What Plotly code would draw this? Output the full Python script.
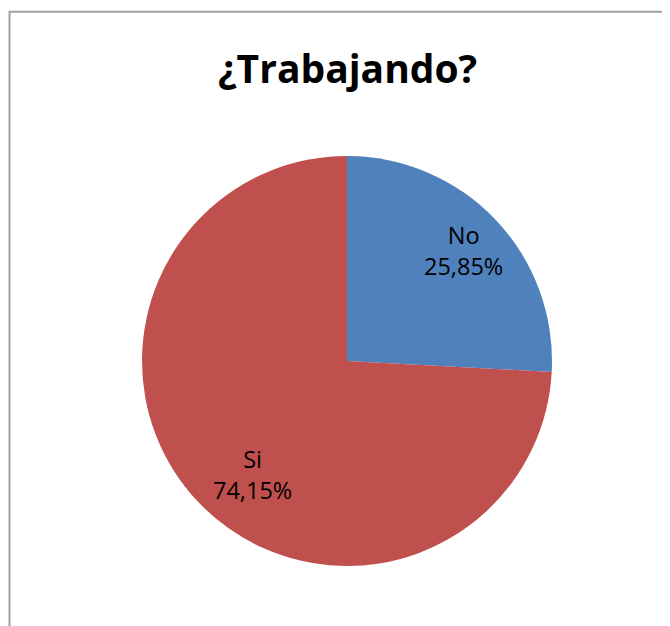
import math
import plotly.graph_objects as go

labels = ["No", "Si"]
values = [25.85, 74.15]
colors = ["#4F81BD", "#C0504D"]
title = "¿Trabajando?"

OFF = 8  # page body margin in the browser
W, H = 670 - OFF, 626 - OFF

# pie placement in figure pixels
cx, cy, R = 347 - OFF, 361 - OFF, 205

fig = go.Figure(go.Pie(
    labels=labels,
    values=values,
    sort=False,
    direction="clockwise",
    rotation=0,
    marker=dict(colors=colors, line=dict(width=0)),
    textinfo="none",
    domain=dict(x=[(cx - R) / W, (cx + R) / W], y=[1 - (cy + R) / H, 1 - (cy - R) / H]),
    hoverinfo="label+percent",
    showlegend=False,
))

# data labels near the slice bisectors (Excel style)
label_frac = [0.78, 0.72]
label_turn = [0.0, -0.12]  # small angular nudge (radians)
total = sum(values)
annots = []
start = 0.0
for lab, v, f, t in zip(labels, values, label_frac, label_turn):
    mid = (start + v / 2) / total * 2 * math.pi + t
    start += v
    px = cx + R * f * math.sin(mid)
    py = cy - R * f * math.cos(mid)
    pct = f"{v / total * 100:.2f}".replace(".", ",") + "%"
    annots.append(dict(
        text=f"{lab}<br>{pct}", x=px / W, y=1 - py / H, xref="paper", yref="paper",
        xanchor="center", yanchor="middle", showarrow=False, align="center",
        font=dict(family="Open Sans", size=23.5, color="black"),
    ))

annots.append(dict(
    text="<b>" + title + "</b>",
    x=(347 - OFF) / W, y=1 - (68 - OFF) / H, xref="paper", yref="paper",
    xanchor="center", yanchor="middle", showarrow=False,
    font=dict(family="Open Sans", size=39, color="black"),
))

fig.update_layout(
    width=W, height=H,
    margin=dict(l=0, r=0, t=0, b=0),
    paper_bgcolor="white",
    annotations=annots,
    shapes=[dict(
        type="rect", xref="paper", yref="paper",
        x0=1.5 / W, x1=2, y0=-1, y1=1 - 3.7 / H,
        line=dict(color="#A0A0A0", width=2), fillcolor="rgba(0,0,0,0)",
    )],
)

fig.write_html("out.html")
